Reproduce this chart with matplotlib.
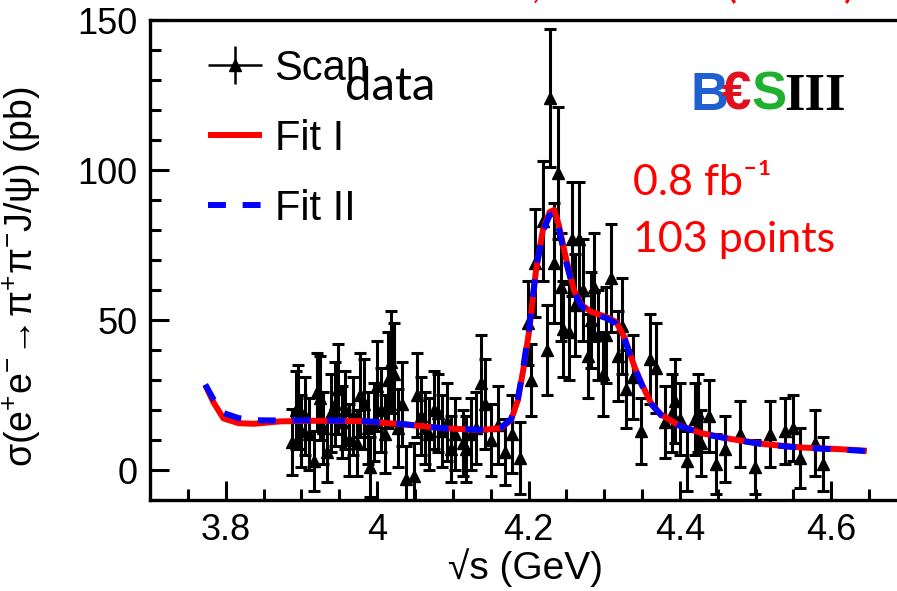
import matplotlib
matplotlib.use("Agg")
import matplotlib.pyplot as plt
from matplotlib.container import ErrorbarContainer
from matplotlib.legend_handler import HandlerErrorbar
import numpy as np

plt.rcParams['font.family'] = ['Liberation Sans', 'DejaVu Sans']
plt.rcParams['mathtext.fontset'] = 'custom'
plt.rcParams['mathtext.rm'] = 'Liberation Sans'
plt.rcParams['mathtext.it'] = 'Liberation Sans'
plt.rcParams['mathtext.default'] = 'regular'

# scan data points: sqrt(s) in GeV, cross section in pb, error in pb
scan_x = [3.888, 3.893, 3.896, 3.900, 3.905, 3.910, 3.916, 3.920, 3.924, 3.929,
          3.934, 3.939, 3.944, 3.948, 3.953, 3.958, 3.963, 3.968, 3.974, 3.978,
          3.983, 3.988, 3.991, 3.996, 4.000, 4.005, 4.010, 4.014, 4.018, 4.022,
          4.027, 4.033, 4.038, 4.049, 4.053, 4.058, 4.063, 4.069, 4.075, 4.080,
          4.086, 4.092, 4.097, 4.103, 4.113, 4.118, 4.124, 4.130, 4.137, 4.142,
          4.150, 4.160, 4.169, 4.178, 4.189,
          4.199, 4.203, 4.208, 4.219, 4.224, 4.228, 4.234, 4.239, 4.243, 4.246,
          4.254, 4.258, 4.262, 4.267, 4.272, 4.278, 4.282, 4.287, 4.292, 4.298,
          4.303, 4.309,
          4.318, 4.323, 4.329, 4.338, 4.349, 4.360, 4.369, 4.380, 4.389, 4.393,
          4.400, 4.409, 4.420, 4.424, 4.428, 4.439, 4.448, 4.459, 4.479, 4.499,
          4.519, 4.539, 4.550, 4.559, 4.578, 4.589]
scan_y = [9.4, 20, 21, 13, 18, 12, 3, 26, 24, 14,
          6, 19, 22, 27, 16, 20, 10, 18, 9, 25,
          22, 14, 1, 16, 28, 20, 12, 30, 36, 32,
          14, 22, -3, -2, 25, 18, 14, 12, 20, 19,
          13, 16, 7, 12, 9, 7, 12, 14, 29, 22,
          10, 15, 6, 12, 4,
          49, 30, 69, 83, 40, 124, 69, 99, 61, 47,
          46, 77, 55, 77, 60, 38, 50, 61, 45, 32,
          45, 64,
          38, 48, 27, 31, 13, 37, 34, 16, 19, 23,
          17, 3, 17, 19, 9, 18, 2, 7, 12, 1,
          12, 13, 14, 4, 9, 2]
scan_err = [11, 13, 14, 12, 13, 12, 10, 13, 14, 12,
            10, 13, 14, 15, 12, 13, 12, 13, 11, 14,
            15, 12, 10, 13, 15, 14, 13, 16, 17, 17,
            13, 14, 11, 11, 14, 13, 12, 12, 13, 13,
            12, 13, 11, 12, 11, 11, 12, 12, 16, 15,
            12, 13, 11, 13, 12,
            14, 12, 18, 20, 15, 23, 20, 22, 18, 16,
            16, 19, 17, 19, 17, 14, 16, 18, 15, 14,
            16, 18,
            15, 16, 13, 14, 11, 15, 15, 12, 13, 14,
            12, 10, 12, 13, 11, 12, 10, 11, 11, 9,
            11, 11, 11, 10, 11, 9]

# fit curves
fit1_x = [3.773, 3.784, 3.797, 3.817, 3.837, 3.872, 3.916, 3.978, 4.031, 4.084,
          4.137, 4.164, 4.177, 4.186, 4.193, 4.201, 4.210, 4.219, 4.228, 4.234,
          4.240, 4.250, 4.260, 4.270, 4.283, 4.303, 4.316, 4.327, 4.340, 4.350,
          4.362, 4.375, 4.398, 4.428, 4.468, 4.512, 4.561, 4.614, 4.647]
fit1_y = [28.3, 22.5, 17.2, 15.6, 15.4, 16.2, 16.4, 16.3, 15.3, 14.0,
          13.3, 14.0, 16.7, 23.3, 33.3, 46.7, 66.7, 80.0, 86.0, 86.7,
          81.7, 70.0, 60.0, 55.0, 52.7, 51.0, 49.3, 44.0, 34.4, 28.5,
          22.2, 18.5, 15.0, 12.3, 10.3, 8.6, 7.5, 6.9, 6.4]
fit2_x = [3.773, 3.784, 3.797, 3.817, 3.837, 3.872, 3.916, 3.978, 4.031, 4.084,
          4.137, 4.164, 4.177, 4.186, 4.193, 4.201, 4.210, 4.219, 4.228, 4.234,
          4.240, 4.250, 4.260, 4.270, 4.283, 4.303, 4.316, 4.327, 4.340, 4.350,
          4.362, 4.375, 4.398, 4.428, 4.468, 4.512, 4.561, 4.614, 4.647]
fit2_y = [28.5, 23.5, 19.0, 17.3, 16.6, 16.5, 16.6, 16.4, 15.4, 14.0,
          13.4, 14.2, 17.0, 23.8, 34.0, 47.5, 67.0, 79.5, 85.0, 85.5,
          80.5, 69.0, 59.5, 54.5, 52.3, 50.6, 48.8, 43.5, 34.0, 28.2,
          22.0, 18.3, 14.9, 12.2, 10.2, 8.5, 7.4, 6.8, 6.3]

fig = plt.figure(figsize=(8.97, 5.91), dpi=100)
ax = fig.add_axes([150 / 897, 91 / 591, (4.72 - 3.7) * 757 / 897, 480 / 591])

l1, = ax.plot(fit1_x, fit1_y, color='#ff0000', lw=4.3, solid_capstyle='butt', zorder=3)
l2, = ax.plot(fit2_x, fit2_y, color='#0000ff', lw=4.3, dashes=(3.0, 2.8), zorder=4)
ax.errorbar(scan_x, scan_y, yerr=scan_err, fmt='^', color='black', ms=9,
            elinewidth=2.2, capsize=4.5, capthick=2.2, zorder=2)

# proxy for the legend entry (ROOT style cross)
eb = ax.errorbar([], [], xerr=[], yerr=[], fmt='^', color='black', ms=9,
                 elinewidth=1.8)

ax.set_xlim(3.7, 4.72)
ax.set_ylim(-10, 150)
ax.set_xticks([3.8, 4.0, 4.2, 4.4, 4.6])
ax.set_xticklabels(['3.8', '4', '4.2', '4.4', '4.6'])
ax.set_xticks(np.arange(3.75, 4.72, 0.05), minor=True)
ax.set_yticks([0, 50, 100, 150])
ax.set_yticks(np.arange(-10, 150, 10), minor=True)
ax.tick_params(which='both', direction='in', top=False, right=False,
               labelsize=26, width=2.2)
ax.tick_params(which='major', length=14, pad=9)
ax.tick_params(which='minor', length=8)
for s in ax.spines.values():
    s.set_linewidth(2.4)

ax.set_xlabel('√s (GeV)', fontsize=28)
ax.xaxis.set_label_coords(0.486, -0.1)
ax.set_ylabel(r'$\sigma(e^{+}e^{-}\!\rightarrow\!\pi^{+}\pi^{-}J/\psi)$ (pb)',
              fontsize=27)
ax.yaxis.set_label_coords(-0.138, 0.465)

ax.legend([eb, l1, l2], ['Scan', 'Fit I', 'Fit II'], loc='upper left',
          bbox_to_anchor=(0.075, 0.94), frameon=False, fontsize=30,
          handlelength=1.3, handletextpad=0.3, labelspacing=0.72,
          borderaxespad=0, borderpad=0,
          handler_map={ErrorbarContainer: HandlerErrorbar(xerr_size=0.65, yerr_size=0.45)})

fig.text(345 / 897, 1 - 87 / 591, 'data', family=['Lato', 'DejaVu Sans'],
         fontsize=34, va='center', ha='left')

fig.text(633 / 897, 1 - 183 / 591, '0.8 fb⁻¹', family=['Lato', 'DejaVu Sans'],
         fontsize=31, color='#ff0000', va='center')
fig.text(633 / 897, 1 - 240 / 591, '103 points', family=['Lato', 'DejaVu Sans'],
         fontsize=31, color='#ff0000', va='center')

# BESIII logo
logo = [('B', '#1f5fd0', 690, 'Liberation Sans'), ('€', '#e0101e', 722, 'Liberation Sans'),
        ('S', '#20b030', 751, 'Liberation Sans'), ('III', 'black', 784, 'Liberation Serif')]
for ch, c, px, fam in logo:
    fig.text(px / 897, 1 - 110 / 591, ch, color=c, fontsize=38, fontweight='bold',
             family=[fam, 'DejaVu Sans'], va='baseline')

# reference line cut off at the top of the slide
fig.text(856 / 897, 1 + 3 / 591, 'PRL 118, 092001 (2017)', color='#ff0000',
         family=['Lato', 'DejaVu Sans'], fontsize=33, ha='right', va='baseline')

fig.savefig('out.png', dpi=100)
